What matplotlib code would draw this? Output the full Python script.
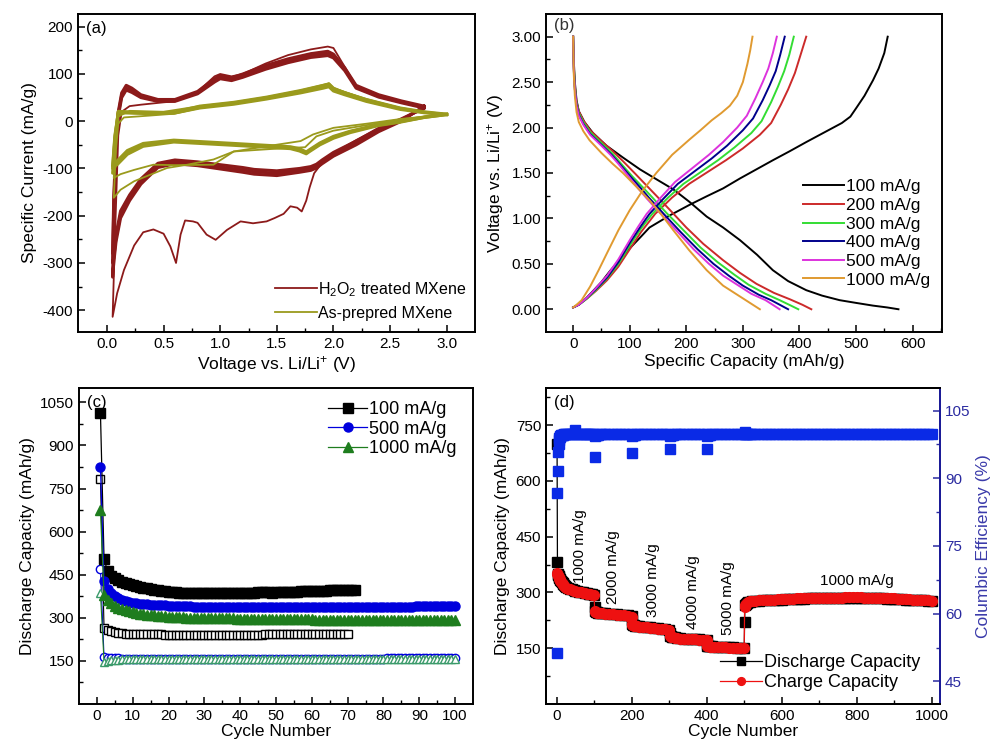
import matplotlib
matplotlib.use("Agg")
import matplotlib.pyplot as plt
import numpy as np

plt.rcParams['font.family'] = ['Liberation Sans', 'DejaVu Sans']
plt.rcParams['mathtext.fontset'] = 'custom'
plt.rcParams['mathtext.rm'] = 'Liberation Sans'
plt.rcParams['mathtext.default'] = 'regular'
plt.rcParams['axes.linewidth'] = 1.4
plt.rcParams['axes.unicode_minus'] = False

# ---------------- (a) cyclic voltammetry ----------------
# H2O2 treated MXene, first cycle
red1_cath_v = [2.8, 2.6, 2.4, 2.2, 2.0, 1.9, 1.83, 1.79, 1.76, 1.72, 1.68, 1.62, 1.56, 1.48, 1.41, 1.29,
               1.18, 1.06, 0.96, 0.88, 0.8, 0.76, 0.69, 0.65, 0.61, 0.56, 0.5, 0.41, 0.32, 0.24, 0.15, 0.09, 0.05]
red1_cath_i = [25, 5, -15, -40, -68, -88, -110, -140, -168, -191, -183, -180, -196, -205, -212, -216,
               -212, -230, -251, -240, -215, -212, -210, -240, -300, -265, -238, -229, -235, -263, -315, -364, -414]
red1_anod_v = [0.05, 0.07, 0.1, 0.13, 0.2, 0.3, 0.5, 0.6, 0.8, 0.95, 1.0, 1.1, 1.2, 1.4, 1.6, 1.8,
               1.95, 2.0, 2.1, 2.2, 2.4, 2.6, 2.8]
red1_anod_i = [-414, -250, -30, 20, 32, 35, 40, 42, 62, 95, 100, 95, 100, 122, 140, 152,
               158, 155, 115, 75, 52, 40, 30]
# H2O2 treated MXene, later cycles
red_cath_v = [2.8, 2.6, 2.4, 2.2, 2.0, 1.9, 1.85, 1.8, 1.7, 1.5, 1.3, 1.2, 1.0, 0.8, 0.6, 0.45,
              0.3, 0.2, 0.12, 0.08, 0.06, 0.05]
red2_cath_i = [32, 0, -22, -50, -74, -90, -99, -104, -108, -115, -112, -108, -101, -94, -90, -98,
               -133, -168, -205, -255, -300, -330]
red3_cath_i = [30, 3, -18, -45, -70, -86, -95, -100, -104, -110, -107, -103, -97, -90, -86, -93,
               -127, -162, -198, -247, -290, -300]
red4_cath_i = [28, 5, -15, -42, -66, -82, -91, -96, -100, -105, -102, -98, -92, -86, -82, -89,
               -122, -156, -190, -240, -270, -280]
red_anod_v = [0.05, 0.06, 0.08, 0.1, 0.13, 0.17, 0.22, 0.3, 0.45, 0.6, 0.8, 0.95, 1.0, 1.1, 1.2,
              1.4, 1.6, 1.8, 1.95, 2.0, 2.1, 2.2, 2.4, 2.6, 2.8]
red2_anod_i = [-330, -200, -60, 20, 60, 76, 70, 56, 46, 46, 63, 90, 97, 92, 100,
               118, 132, 143, 148, 142, 113, 76, 56, 43, 32]
red3_anod_i = [-300, -180, -50, 15, 55, 70, 65, 52, 44, 44, 60, 86, 93, 89, 96,
               114, 128, 139, 143, 138, 110, 73, 53, 41, 30]
red4_anod_i = [-280, -160, -45, 10, 50, 66, 61, 50, 42, 42, 58, 83, 90, 86, 93,
               110, 124, 135, 139, 134, 107, 70, 51, 39, 28]

# As-prepared MXene
ol1_cath_v = [3.0, 2.6, 2.3, 2.0, 1.82, 1.71, 1.41, 1.12, 0.94, 0.71, 0.53, 0.24, 0.12, 0.06]
ol1_cath_i = [14, 5, -5, -14, -28, -42, -53, -64, -81, -92, -99, -127, -145, -162]
ol1_anod_v = [0.06, 0.08, 0.1, 0.15, 0.38, 0.6, 0.82, 1.12, 1.41, 1.71, 1.91, 1.96, 2.0, 2.29, 2.59, 2.8, 3.0]
ol1_anod_i = [-162, -60, -5, 8, 12, 16, 28, 38, 50, 63, 75, 80, 70, 46, 26, 18, 14]
ol2_cath_v = [3.0, 2.6, 2.3, 2.0, 1.85, 1.75, 1.5, 1.12, 0.94, 0.6, 0.41, 0.24, 0.12, 0.06]
ol2_cath_i = [15, 4, -8, -20, -32, -55, -58, -64, -92, -93, -92, -103, -112, -120]
ol2_anod_v = [0.06, 0.08, 0.1, 0.2, 0.5, 0.82, 1.12, 1.41, 1.71, 1.91, 1.96, 2.0, 2.29, 2.59, 2.8, 3.0]
ol2_anod_i = [-120, -40, 10, 22, 20, 32, 40, 51, 65, 77, 80, 70, 47, 28, 19, 15]
ol_cath_v = [3.0, 2.8, 2.59, 2.4, 2.15, 2.0, 1.88, 1.79, 1.76, 1.7, 1.62, 1.41, 1.12, 0.82, 0.59,
             0.32, 0.18, 0.09, 0.05]
ol3_cath_i = [15, 9, 0, -7, -21, -32, -46, -60, -65, -58, -54, -51, -47, -43, -40, -47, -62, -84, -110]
ol4_cath_i = [14, 8, -1, -8, -22, -34, -48, -62, -67, -61, -56, -53, -49, -45, -42, -50, -66, -88, -100]
ol5_cath_i = [14, 8, -2, -9, -24, -36, -50, -64, -69, -63, -58, -55, -51, -47, -44, -53, -70, -92, -95]
ol_anod_v = [0.05, 0.07, 0.1, 0.24, 0.4, 0.59, 0.82, 1.12, 1.41, 1.71, 1.91, 1.96, 2.0, 2.1, 2.29,
             2.59, 2.8, 3.0]
ol3_anod_i = [-110, -40, 21, 19, 18, 19, 32, 40, 51, 65, 76, 79, 70, 60, 46, 28, 20, 15]
ol4_anod_i = [-100, -35, 20, 18, 17, 18, 30, 38, 49, 62, 73, 76, 67, 58, 44, 27, 19, 14]
ol5_anod_i = [-95, -30, 18, 17, 16, 17, 28, 36, 47, 60, 70, 73, 64, 56, 42, 25, 18, 14]

# ---------------- (b) charge / discharge ----------------
rates_b = ['100 mA/g', '200 mA/g', '300 mA/g', '400 mA/g', '500 mA/g', '1000 mA/g']
colors_b = ['#000000', '#cc2a2a', '#33dd33', '#00008b', '#dd33dd', '#e09a30']
dis_cap = [
    [0, 1, 3, 6, 10, 20, 35, 59, 88, 118, 150, 177, 206, 236, 265, 295, 325, 353, 380, 412, 440,
     471, 500, 530, 555, 575],
    [0, 1, 3, 6, 10, 18, 30, 50, 70, 88, 110, 130, 147, 170, 200, 230, 265, 295, 324, 355, 383, 405, 421],
    [0, 1, 3, 6, 10, 18, 30, 50, 70, 85, 105, 125, 140, 165, 195, 225, 255, 285, 310, 340, 365, 385, 398],
    [0, 1, 3, 6, 10, 18, 30, 50, 68, 82, 100, 120, 135, 160, 190, 220, 248, 275, 300, 328, 350, 368, 380],
    [0, 1, 3, 6, 10, 18, 30, 50, 66, 80, 97, 115, 130, 155, 185, 213, 240, 265, 290, 315, 340, 355, 365],
    [0, 1, 3, 6, 10, 18, 29, 50, 70, 88, 110, 135, 155, 177, 205, 236, 265, 295, 315, 330],
]
dis_volt = [
    [3.0, 2.75, 2.5, 2.3, 2.18, 2.06, 1.94, 1.8, 1.67, 1.54, 1.42, 1.32, 1.18, 1.02, 0.9, 0.76, 0.6,
     0.43, 0.31, 0.21, 0.15, 0.1, 0.07, 0.04, 0.02, 0.0],
    [3.0, 2.7, 2.45, 2.28, 2.18, 2.08, 1.97, 1.85, 1.74, 1.63, 1.49, 1.36, 1.25, 1.1, 0.9, 0.72, 0.54,
     0.4, 0.28, 0.18, 0.11, 0.05, 0.0],
    [3.0, 2.7, 2.45, 2.27, 2.16, 2.06, 1.95, 1.83, 1.71, 1.6, 1.46, 1.33, 1.23, 1.06, 0.87, 0.68, 0.52,
     0.38, 0.27, 0.17, 0.1, 0.04, 0.0],
    [3.0, 2.65, 2.42, 2.25, 2.14, 2.04, 1.93, 1.81, 1.7, 1.6, 1.47, 1.33, 1.22, 1.05, 0.85, 0.66, 0.5,
     0.37, 0.26, 0.16, 0.1, 0.04, 0.0],
    [3.0, 2.65, 2.42, 2.24, 2.13, 2.03, 1.92, 1.8, 1.7, 1.6, 1.47, 1.33, 1.22, 1.05, 0.85, 0.66, 0.5,
     0.37, 0.27, 0.17, 0.1, 0.04, 0.0],
    [3.0, 2.6, 2.35, 2.17, 2.06, 1.96, 1.86, 1.72, 1.6, 1.5, 1.36, 1.2, 1.05, 0.87, 0.65, 0.43, 0.26,
     0.14, 0.06, 0.0],
]
chg_cap = [
    [0, 10, 20, 35, 50, 65, 80, 100, 120, 135, 170, 206, 235, 265, 295, 324, 353, 383, 412, 442, 460,
     475, 490, 501, 515, 530, 540, 550, 556],
    [0, 10, 25, 40, 60, 80, 100, 120, 145, 175, 205, 240, 270, 300, 330, 350, 367, 380, 392, 402, 412],
    [0, 10, 25, 40, 60, 80, 100, 120, 140, 168, 195, 228, 256, 285, 315, 333, 350, 362, 373, 382, 390],
    [0, 10, 25, 40, 60, 80, 100, 118, 135, 160, 185, 215, 245, 272, 300, 318, 335, 347, 358, 366, 374],
    [0, 10, 25, 40, 60, 80, 100, 115, 130, 155, 180, 210, 240, 265, 290, 307, 322, 335, 345, 353, 360],
    [0, 8, 15, 30, 45, 60, 80, 100, 122, 147, 175, 206, 225, 245, 262, 277, 290, 300, 308, 313, 317],
]
chg_volt = [
    [0.02, 0.05, 0.1, 0.2, 0.3, 0.42, 0.53, 0.67, 0.8, 0.9, 1.03, 1.15, 1.24, 1.33, 1.44, 1.54, 1.64,
     1.74, 1.84, 1.94, 2.0, 2.05, 2.12, 2.22, 2.35, 2.52, 2.65, 2.82, 3.0],
    [0.02, 0.05, 0.12, 0.2, 0.32, 0.47, 0.66, 0.85, 1.05, 1.23, 1.38, 1.52, 1.64, 1.77, 1.92, 2.05,
     2.25, 2.42, 2.6, 2.8, 3.0],
    [0.02, 0.05, 0.12, 0.21, 0.34, 0.5, 0.7, 0.89, 1.05, 1.23, 1.38, 1.52, 1.64, 1.78, 1.94, 2.07,
     2.28, 2.45, 2.62, 2.8, 3.0],
    [0.02, 0.05, 0.13, 0.22, 0.35, 0.52, 0.73, 0.9, 1.05, 1.22, 1.38, 1.52, 1.66, 1.8, 1.97, 2.1,
     2.3, 2.46, 2.62, 2.8, 3.0],
    [0.02, 0.05, 0.13, 0.23, 0.37, 0.55, 0.76, 0.91, 1.05, 1.23, 1.4, 1.55, 1.7, 1.84, 2.0, 2.13,
     2.32, 2.5, 2.65, 2.82, 3.0],
    [0.02, 0.06, 0.1, 0.25, 0.43, 0.62, 0.87, 1.09, 1.3, 1.5, 1.7, 1.87, 1.97, 2.08, 2.16, 2.24,
     2.35, 2.5, 2.7, 2.85, 3.0],
]

# ---------------- (c) cycling at different rates ----------------
c_black_fill = [1012, 504, 462, 446, 437, 430, 425, 420, 416, 413,
                410, 407, 404, 402, 400, 398, 396, 394, 392, 391,
                390, 389, 388, 387, 387, 386, 386, 385, 385, 385,
                385, 385, 386, 386, 386, 386, 387, 387, 387, 387,
                388, 388, 388, 388, 389, 389, 389, 389, 388, 389,
                389, 390, 390, 390, 391, 391, 392, 392, 393, 393,
                394, 394, 395, 395, 396, 396, 396, 397, 397, 397,
                398, 398]
c_black_open = [783, 266, 258, 253, 250, 248, 246, 245, 244, 244,
                243, 243, 243, 242, 242, 242, 242, 242, 241, 241,
                241, 240, 240, 240, 240, 240, 240, 240, 240, 241,
                241, 241, 241, 241, 241, 241, 241, 241, 241, 241,
                241, 241, 241, 241, 241, 241, 242, 242, 242, 242,
                242, 242, 242, 242, 242, 242, 242, 242, 242, 243,
                243, 243, 243, 243, 243, 243, 243, 243, 243, 243]
c_blue_fill = [825, 428, 400, 385, 375, 368, 362, 358, 355, 352,
               350, 349, 348, 347, 346, 345, 344, 343, 343, 342,
               342, 341, 341, 340, 340, 340, 339, 339, 339, 338,
               338, 338, 338, 337, 337, 337, 337, 337, 336, 336,
               336, 336, 336, 336, 336, 336, 336, 336, 336, 336,
               336, 336, 336, 336, 336, 336, 337, 337, 337, 337,
               337, 337, 337, 337, 337, 337, 337, 337, 338, 338,
               338, 338, 338, 338, 338, 338, 338, 338, 339, 339,
               339, 339, 339, 339, 339, 339, 339, 339, 340, 340,
               340, 340, 340, 340, 340, 340, 340, 340, 340, 340]
c_blue_open = [469, 164, 161, 160, 159, 159, 158, 158, 158, 158,
               158, 158, 157, 157, 157, 157, 157, 157, 157, 157,
               157, 157, 157, 157, 157, 157, 157, 157, 157, 157,
               157, 157, 157, 157, 157, 157, 157, 157, 157, 157,
               157, 157, 158, 158, 158, 158, 158, 158, 158, 158,
               158, 158, 158, 158, 158, 158, 158, 158, 158, 158,
               158, 158, 158, 158, 158, 158, 158, 158, 158, 158,
               158, 158, 158, 158, 158, 158, 158, 158, 158, 158,
               159, 159, 159, 159, 159, 159, 159, 159, 159, 159,
               159, 159, 159, 159, 159, 159, 159, 159, 159, 159]
c_green_fill = [675, 380, 362, 350, 342, 335, 330, 326, 322, 319,
                316, 314, 312, 310, 309, 308, 307, 306, 305, 304,
                303, 303, 302, 302, 301, 301, 300, 300, 300, 299,
                299, 299, 299, 298, 298, 298, 298, 298, 297, 297,
                297, 297, 297, 297, 296, 296, 296, 296, 296, 296,
                296, 296, 295, 295, 295, 295, 295, 295, 295, 295,
                294, 294, 294, 294, 294, 294, 294, 294, 293, 293,
                293, 293, 293, 293, 293, 293, 293, 292, 292, 292,
                292, 292, 292, 292, 292, 292, 292, 291, 291, 291,
                291, 291, 291, 291, 291, 291, 291, 291, 291, 291]
c_green_open = [385, 147, 150, 152, 153, 154, 155, 155, 156, 156,
                156, 156, 156, 156, 156, 156, 156, 156, 156, 156,
                156, 156, 156, 156, 156, 156, 156, 156, 156, 156,
                156, 156, 156, 156, 156, 156, 156, 156, 156, 156,
                157, 157, 157, 157, 157, 157, 157, 157, 157, 157,
                157, 157, 157, 157, 157, 157, 157, 157, 157, 157,
                157, 157, 157, 157, 157, 157, 157, 157, 157, 157,
                157, 157, 157, 157, 157, 157, 157, 157, 157, 157,
                157, 157, 157, 157, 157, 157, 157, 157, 157, 157,
                157, 157, 157, 157, 157, 157, 157, 157, 157, 157]

# ---------------- (d) rate performance + long cycling ----------------
d_cycle = ([1, 2, 3, 4, 5, 6, 7, 8, 10, 12, 14, 16, 18, 20, 23, 26, 30, 35, 40, 45, 50,
            55, 60, 65, 70, 75, 80, 85, 90, 95, 100]
           + [101, 102, 104, 107, 110, 115, 120, 130, 140, 150, 160, 170, 180, 190, 200]
           + [201, 202, 204, 207, 210, 215, 220, 230, 240, 250, 260, 270, 280, 290, 300]
           + [301, 302, 304, 307, 310, 315, 320, 330, 340, 350, 360, 370, 380, 390, 400]
           + [401, 402, 404, 407, 410, 415, 420, 430, 440, 450, 460, 470, 480, 490, 500]
           + [501, 502, 504, 507, 510, 515] + list(range(520, 1001, 10)))
d_charge = ([353, 350, 347, 344, 341, 339, 337, 335, 332, 329, 326, 323, 320, 318, 315, 313,
             310, 308, 306, 305, 303, 302, 301, 300, 299, 298, 297, 296, 295, 294, 293]
            + [250, 248, 247, 246, 245, 245, 244, 243, 242, 241, 240, 239, 238, 237, 235]
            + [215, 213, 212, 211, 210, 209, 208, 207, 206, 205, 204, 203, 202, 201, 199]
            + [185, 183, 181, 180, 179, 178, 177, 176, 175, 175, 174, 174, 173, 172, 171]
            + [157, 156, 155, 155, 154, 154, 153, 153, 152, 152, 151, 151, 150, 150, 150]
            + [262, 266, 269, 272, 274, 276, 277, 278, 279, 280, 280, 281, 281, 282, 282,
               283, 283, 283, 284, 284, 284, 285, 285, 285, 285,
               286, 286, 286, 286, 286, 286, 287, 287, 287, 287,
               287, 286, 286, 286, 285, 285, 285, 284, 284, 284,
               283, 283, 282, 282, 281, 281, 280, 280, 279, 278])
d_discharge = ([700, 383, 350, 346, 343, 341, 339, 337, 334, 331, 328, 325, 322, 320, 317, 315,
                312, 310, 308, 306, 304, 303, 302, 301, 300, 299, 298, 297, 296, 295, 294]
               + [262, 249, 248, 247, 246, 246, 245, 244, 243, 242, 241, 240, 239, 238, 236]
               + [226, 214, 213, 212, 211, 210, 209, 208, 207, 206, 205, 204, 203, 202, 200]
               + [190, 184, 182, 181, 180, 179, 178, 177, 176, 176, 175, 175, 174, 173, 172]
               + [162, 157, 156, 156, 155, 155, 154, 154, 153, 153, 152, 152, 151, 151, 151]
               + [220, 265, 268, 271, 273, 275, 276, 277, 278, 279, 279, 280, 280, 281, 281,
                  282, 282, 282, 283, 283, 283, 284, 284, 284, 284,
                  285, 285, 285, 285, 285, 285, 286, 286, 286, 286,
                  286, 285, 285, 285, 284, 284, 284, 283, 283, 283,
                  282, 282, 281, 281, 280, 280, 279, 279, 278, 277])
d_ce = ([51.2, 86.7, 91.7, 95.9, 97.5, 98.4, 98.9, 99.2, 99.4, 99.5, 99.6, 99.6, 99.6, 99.7,
         99.7, 99.7, 99.7, 99.7, 99.7, 99.8, 100.6, 99.8, 99.7, 99.7, 99.7, 99.7, 99.7, 99.7,
         99.7, 99.7, 99.7]
        + [94.8, 99.3, 99.5, 99.6, 99.6, 99.7, 99.7, 99.7, 99.7, 99.7, 99.7, 99.7, 99.7, 99.7, 99.7]
        + [95.7, 99.4, 99.5, 99.6, 99.6, 99.7, 99.7, 99.7, 99.7, 99.7, 99.7, 99.7, 99.7, 99.7, 99.7]
        + [96.4, 99.4, 99.5, 99.6, 99.6, 99.7, 99.7, 99.7, 99.7, 99.7, 99.7, 99.7, 99.7, 99.7, 99.7]
        + [96.4, 99.4, 99.5, 99.6, 99.6, 99.7, 99.7, 99.7, 99.7, 99.7, 99.7, 99.7, 99.7, 99.7, 99.7]
        + [100.3, 99.9, 99.8, 99.7, 99.7, 99.7, 99.7, 99.7, 99.7, 99.7, 99.7, 99.7, 99.7, 99.7, 99.7,
           99.7, 99.7, 99.7, 99.7, 99.7, 99.7, 99.7, 99.7, 99.7, 99.7,
           99.7, 99.7, 99.7, 99.7, 99.7, 99.7, 99.7, 99.7, 99.7, 99.7,
           99.7, 99.7, 99.7, 99.7, 99.7, 99.7, 99.7, 99.7, 99.7, 99.7,
           99.7, 99.7, 99.7, 99.7, 99.7, 99.7, 99.7, 99.7, 99.7, 99.7])
d_rate_text = ['1000 mA/g', '2000 mA/g', '3000 mA/g', '4000 mA/g', '5000 mA/g']
d_rate_x = [62, 151, 258, 364, 458]
d_rate_y = [425, 369, 333, 302, 284]

RED = '#8c1a1a'
OLIVE = '#9a9a1c'
TICK_FS = 11
LAB_FS = 12.5


def style(ax):
    ax.tick_params(which='both', direction='in', top=False, right=False, labelsize=TICK_FS)
    ax.tick_params(which='major', length=5, width=1.1)
    ax.tick_params(which='minor', length=3, width=1.0)


fig = plt.figure(figsize=(9.92, 7.47), dpi=100)

# (a)
ax = fig.add_axes([0.0786, 0.5556, 0.4002, 0.4257])
for ci, ai in [(red4_cath_i, red4_anod_i), (red3_cath_i, red3_anod_i), (red2_cath_i, red2_anod_i)]:
    ax.plot(red_cath_v + red_anod_v, ci + ai, color=RED, lw=2.2)
ax.plot(red1_cath_v + red1_anod_v, red1_cath_i + red1_anod_i, color=RED, lw=1.3,
        label='H$_2$O$_2$ treated MXene')
for ci, ai in [(ol5_cath_i, ol5_anod_i), (ol4_cath_i, ol4_anod_i), (ol3_cath_i, ol3_anod_i)]:
    ax.plot(ol_cath_v + ol_anod_v, ci + ai, color=OLIVE, lw=2.2)
ax.plot(ol2_cath_v + ol2_anod_v, ol2_cath_i + ol2_anod_i, color=OLIVE, lw=1.3)
ax.plot(ol1_cath_v + ol1_anod_v, ol1_cath_i + ol1_anod_i, color=OLIVE, lw=1.3, label='As-prepred MXene')
ax.set_xlim(-0.256, 3.25)
ax.set_ylim(-446, 227)
ax.set_xticks(np.arange(0, 3.01, 0.5))
ax.set_xticks(np.arange(0.25, 3.1, 0.5), minor=True)
ax.set_yticks(np.arange(-400, 201, 100))
ax.set_yticks(np.arange(-350, 201, 100), minor=True)
ax.xaxis.set_major_formatter(plt.FormatStrFormatter('%.1f'))
style(ax)
ax.set_xlabel('Voltage vs. Li/Li$^{+}$ (V)', fontsize=LAB_FS, labelpad=2)
ax.set_ylabel('Specific Current (mA/g)', fontsize=LAB_FS, labelpad=4)
ax.text(0.02, 0.955, '(a)', transform=ax.transAxes, fontsize=12, va='center')
ax.legend(loc='lower right', bbox_to_anchor=(1.015, -0.01), frameon=False, fontsize=11.5,
          handlelength=2.6, handletextpad=0.1, labelspacing=0.45)

# (b)
ax = fig.add_axes([0.5504, 0.5556, 0.3992, 0.4257])
for k in range(len(rates_b)):
    ax.plot(dis_cap[k], dis_volt[k], color=colors_b[k], lw=1.4, label=rates_b[k])
    ax.plot(chg_cap[k], chg_volt[k], color=colors_b[k], lw=1.4)
ax.set_xlim(-48, 652)
ax.set_ylim(-0.25, 3.25)
ax.set_xticks(np.arange(0, 601, 100))
ax.set_xticks(np.arange(50, 651, 100), minor=True)
ax.set_yticks(np.arange(0, 3.01, 0.5))
ax.set_yticks(np.arange(0.25, 3.1, 0.5), minor=True)
ax.yaxis.set_major_formatter(plt.FormatStrFormatter('%.2f'))
style(ax)
ax.set_xlabel('Specific Capacity (mAh/g)', fontsize=LAB_FS, labelpad=2)
ax.set_ylabel('Voltage vs. Li/Li$^{+}$ (V)', fontsize=LAB_FS, labelpad=4)
ax.text(0.02, 0.965, '(b)', transform=ax.transAxes, fontsize=12, va='center', color='#333333')
ax.legend(loc='center right', bbox_to_anchor=(1.01, 0.31), frameon=False, fontsize=12.5,
          handlelength=2.4, handletextpad=0.1, labelspacing=0.2)

# (c)
ax = fig.add_axes([0.0796, 0.0576, 0.3972, 0.4230])
cyc_b = np.arange(1, len(c_black_fill) + 1)
cyc_bo = np.arange(1, len(c_black_open) + 1)
cyc = np.arange(1, len(c_blue_fill) + 1)
ax.plot(cyc_bo, c_black_open, 's-', color='k', mfc='white', mec='k', ms=6, lw=0.8, mew=1.0)
ax.plot(cyc, c_blue_open, 'o-', color='#0000dd', mfc='white', mec='#0000dd', ms=6, lw=0.8, mew=1.0)
ax.plot(cyc, c_green_open, '^-', color='#1e7d1e', mfc='white', mec='#3a9a6a', ms=6, lw=0.8, mew=1.0)
ax.plot(cyc_b, c_black_fill, 's-', color='k', ms=6.5, lw=0.9, label='100 mA/g')
ax.plot(cyc, c_blue_fill, 'o-', color='#0000dd', ms=6.5, lw=0.9, label='500 mA/g')
ax.plot(cyc, c_green_fill, '^-', color='#1e7d1e', ms=6.5, lw=0.9, label='1000 mA/g')
ax.set_xlim(-5, 105)
ax.set_ylim(0, 1100)
ax.set_xticks(np.arange(0, 101, 10))
ax.set_xticks(np.arange(5, 101, 10), minor=True)
ax.set_yticks(np.arange(150, 1051, 150))
ax.set_yticks(np.arange(75, 1100, 150), minor=True)
style(ax)
ax.set_xlabel('Cycle Number', fontsize=LAB_FS, labelpad=1)
ax.set_ylabel('Discharge Capacity (mAh/g)', fontsize=LAB_FS, labelpad=4)
ax.text(0.02, 0.955, '(c)', transform=ax.transAxes, fontsize=12, va='center')
ax.legend(loc='upper right', bbox_to_anchor=(1.0, 1.01), frameon=False, fontsize=13,
          handlelength=2.2, handletextpad=0.1, labelspacing=0.15)

# (d)
ax = fig.add_axes([0.5504, 0.0576, 0.3972, 0.4230])
ax.plot(d_cycle, d_discharge, 's-', color='k', ms=6.5, lw=0.9, label='Discharge Capacity')
ax.plot(d_cycle, d_charge, 'o-', color='#ee1111', ms=7, lw=0.9, label='Charge Capacity')
for t, x, y in zip(d_rate_text, d_rate_x, d_rate_y):
    ax.text(x, y, t, rotation=90, ha='center', va='center', fontsize=11)
ax.text(800, 331, '1000 mA/g', ha='center', va='center', fontsize=11)
ax.set_xlim(-28.5, 1022)
ax.set_ylim(0, 850)
ax.set_xticks(np.arange(0, 1001, 200))
ax.set_xticks(np.arange(100, 1001, 200), minor=True)
ax.set_yticks(np.arange(150, 751, 150))
ax.set_yticks(np.arange(75, 850, 150), minor=True)
style(ax)
ax.set_xlabel('Cycle Number', fontsize=LAB_FS, labelpad=1)
ax.set_ylabel('Discharge Capacity (mAh/g)', fontsize=LAB_FS, labelpad=4)
ax.text(0.02, 0.955, '(d)', transform=ax.transAxes, fontsize=12, va='center')
ax.legend(loc='lower right', bbox_to_anchor=(0.99, -0.01), frameon=False, fontsize=13,
          handlelength=2.3, handletextpad=0.1, labelspacing=0.15, markerscale=0.8)

ax2 = ax.twinx()
ax2.plot(d_cycle, d_ce, 's', color='#0a2ae6', ms=6.5, ls='none')
ax2.set_ylim(40, 110)
ax2.set_yticks(np.arange(45, 106, 15))
ax2.set_yticks(np.arange(52.5, 110, 15), minor=True)
ax2.tick_params(which='both', direction='in', labelsize=TICK_FS, colors='#2a2aa0')
ax2.tick_params(which='major', length=5, width=1.1)
ax2.tick_params(which='minor', length=3, width=1.0)
ax2.spines['right'].set_color('#1c1c9c')
ax2.set_ylabel('Columbic Efficiency (%)', fontsize=LAB_FS, color='#3a3aaa', labelpad=4)

fig.savefig('out.png', dpi=100)
